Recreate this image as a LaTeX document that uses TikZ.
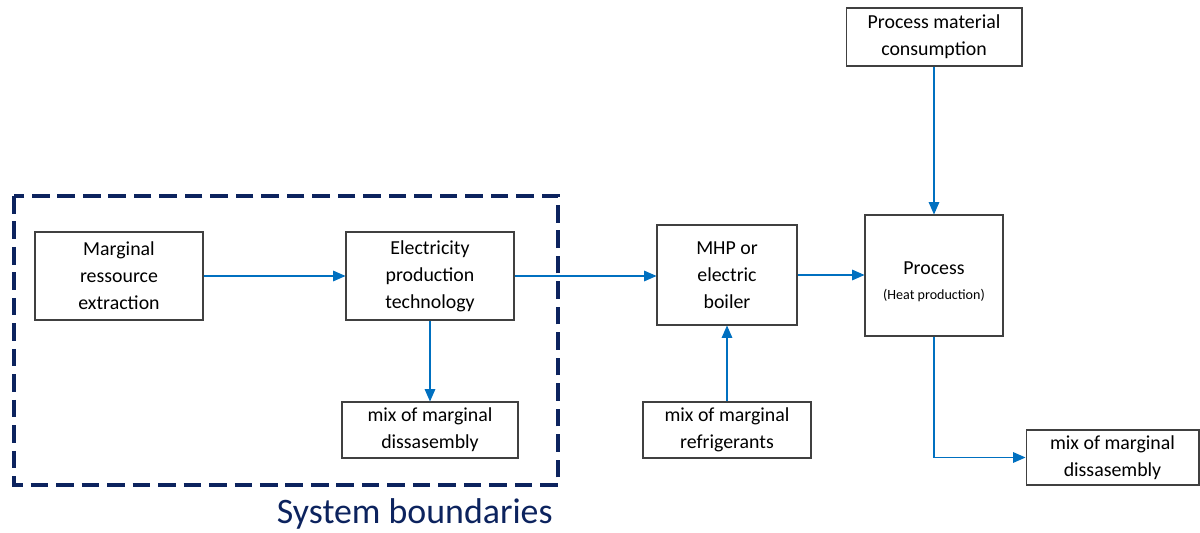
\documentclass[tikz,border=0pt]{standalone}
\usepackage{fontspec}
\setmainfont{Carlito}
\usetikzlibrary{arrows.meta}
\definecolor{flowblue}{RGB}{0,112,192}
\definecolor{bordernavy}{RGB}{12,35,94}
\definecolor{boxgray}{RGB}{64,64,64}
\begin{document}
\begin{tikzpicture}[x=0.02cm, y=-0.02cm,
	block/.style={draw=boxgray, line width=0.6pt, fill=white, align=center,
		font=\fontsize{11.3}{15.3}\selectfont, inner sep=2pt},
	flow/.style={draw=flowblue, line width=0.6pt,
		-{Triangle[length=7pt, width=6pt]}}]
	\useasboundingbox (0,0) rectangle (1200,533);
	% Systemgrenze
	\draw[bordernavy, line width=2.3pt, dash pattern=on 10pt off 4.5pt]
		(14,196) rectangle (558,485);
	\node[anchor=base east, inner sep=0pt, text=bordernavy,
		font=\fontsize{20.4}{24}\selectfont] (sysbound) at (553,523)
		{System boundaries};
	% Bloecke
	\node[block, minimum width=3.36cm, minimum height=1.76cm] (extraction)
		at (119,276) {Marginal\\ressource\\extraction};
	\node[block, minimum width=3.36cm, minimum height=1.76cm] (elecprod)
		at (430,276) {Electricity\\production\\technology};
	\node[block, minimum width=3.52cm, minimum height=1.12cm] (dissleft)
		at (430,430) {mix of marginal\\dissasembly};
	\node[block, minimum width=2.8cm, minimum height=2cm] (mhp)
		at (727,275) {MHP or\\electric\\boiler};
	\node[block, minimum width=3.36cm, minimum height=1.12cm] (refrig)
		at (727,430) {mix of marginal\\refrigerants};
	\node[block, minimum width=2.76cm, minimum height=2.42cm] (process)
		at (934,275.5) {\rule{0pt}{14pt}Process\\[-1pt]{\fontsize{8}{10}\selectfont (Heat production)}};
	\node[block, minimum width=3.52cm, minimum height=1.16cm] (material)
		at (934,37) {Process material\\consumption};
	\node[block, minimum width=3.46cm, minimum height=1.1cm] (dissright)
		at (1112.5,457.5) {mix of marginal\\dissasembly};
	% Fluesse
	\draw[flow] (extraction.east) -- (elecprod.west);
	\draw[flow] (elecprod.east) -- (mhp.west |- elecprod.east);
	\draw[flow] (elecprod.south) -- (dissleft.north);
	\draw[flow] (refrig.north) -- (mhp.south);
	\draw[flow] (mhp.east) -- (process.west |- mhp.east);
	\draw[flow] (material.south) -- (process.north);
	\draw[flow] (process.south) |- (dissright.west);
\end{tikzpicture}
\end{document}
